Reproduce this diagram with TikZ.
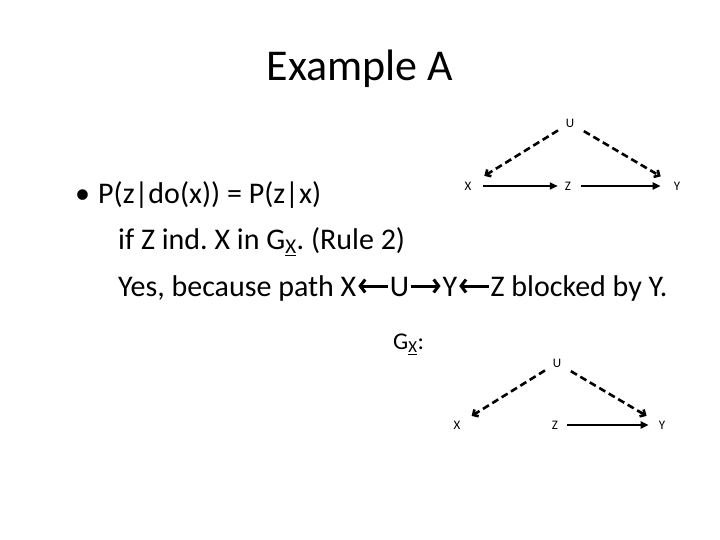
\documentclass[tikz,border=0pt]{standalone}
\usepackage{fontspec}
\setmainfont{Carlito}
\usetikzlibrary{arrows.meta}
\frenchspacing
\newsavebox\larrbox
\newsavebox\rarrbox
\sbox\larrbox{\tikz[baseline=0pt]{\path (0,0) rectangle (33pt,1pt); \draw[line width=3pt, {Straight Barb[length=5pt,width=13pt]}-] (2pt,10pt) -- (32pt,10pt);}}
\sbox\rarrbox{\tikz[baseline=0pt]{\path (0,0) rectangle (33pt,1pt); \draw[line width=3pt, -{Straight Barb[length=5pt,width=13pt]}] (1pt,10pt) -- (31pt,10pt);}}
\tikzset{
  lbl/.style={font=\fontsize{13}{15}\selectfont, inner sep=0pt},
  bodytext/.style={anchor=base west, inner sep=0pt, font=\fontsize{30}{36}\selectfont},
  solidarr/.style={line width=2.4pt, -{Triangle[length=8pt,width=7pt]}},
  dasharr/.style={line width=2.6pt, dash pattern=on 7pt off 4pt, -{Straight Barb[length=4pt,width=8pt]}}
}
\begin{document}
\begin{tikzpicture}[x=1pt,y=-1pt]
\useasboundingbox (0,0) rectangle (720,540);
% title
\node[anchor=base, inner sep=0pt, font=\fontsize{44}{52}\selectfont] (title) at (360,81) {Example A};
% bullet text
\node[bodytext] (bullet) at (75,204) {•};
\node[bodytext] (l1) at (98,204) {P(z|do(x)) = P(z|x)};
\node[bodytext] (l2) at (118,249) {if Z ind. X in G\textsubscript{\underline{X}}. (Rule 2)};
\node[bodytext] (l3) at (118,296) {Yes, because path X\usebox\larrbox U\usebox\rarrbox Y\usebox\larrbox Z blocked by Y.};
% top graph
\node[lbl] (u1) at (570,123) {U};
\node[lbl] (x1) at (468,186) {X};
\node[lbl] (z1) at (568,186) {Z};
\node[lbl] (y1) at (677,186) {Y};
\draw[solidarr, shorten <=11pt, shorten >=7pt] (x1) -- (z1);
\draw[solidarr, shorten <=10pt, shorten >=13pt] (z1) -- (y1);
\draw[dasharr, shorten <=9pt, shorten >=15pt] (u1) -- (x1);
\draw[dasharr, shorten <=11pt, shorten >=15pt] (u1) -- (y1);
% G label
\node[anchor=base west, inner sep=0pt, font=\fontsize{24}{28}\selectfont] (glabel) at (393,349) {G\textsubscript{\underline{X}}:};
% bottom graph
\node[lbl] (u2) at (557,363) {U};
\node[lbl] (x2) at (457,425) {X};
\node[lbl] (z2) at (555,425) {Z};
\node[lbl] (y2) at (662,425) {Y};
\draw[solidarr, shorten <=9pt, shorten >=10pt] (z2) -- (y2);
\draw[dasharr, shorten <=9pt, shorten >=13pt] (u2) -- (x2);
\draw[dasharr, shorten <=11pt, shorten >=14pt] (u2) -- (y2);
\end{tikzpicture}
\end{document}
